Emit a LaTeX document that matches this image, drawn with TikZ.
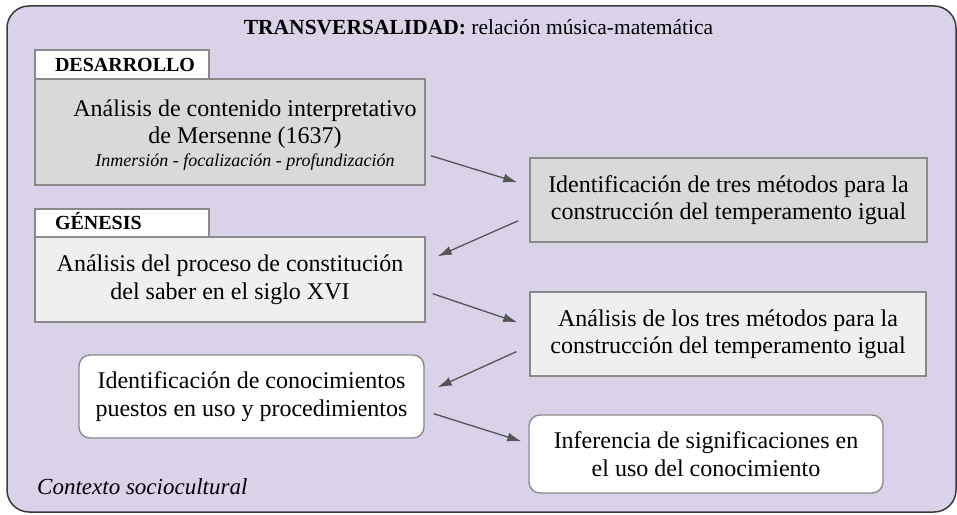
\documentclass[tikz,border=0pt]{standalone}
\usepackage{fontspec}
\setmainfont{Liberation Serif}
\usetikzlibrary{arrows.meta,calc}
\definecolor{lav}{HTML}{D9D2E9}
\definecolor{grayA}{HTML}{D9D9D9}
\definecolor{grayB}{HTML}{EFEFEF}
\definecolor{edgec}{HTML}{8A8A8A}
\definecolor{arrc}{HTML}{555555}
\definecolor{outerc}{HTML}{3A3A3A}
\begin{document}
\begin{tikzpicture}[x=1pt,y=1pt,
  outerbox/.style={draw=outerc,line width=1.5pt,fill=lav,rounded corners=22pt,inner sep=0pt},
  box/.style={draw=edgec,line width=1.4pt,inner sep=0pt,align=center,font=\fontsize{24}{27.5}\selectfont},
  rbox/.style={box,fill=white,rounded corners=11pt},
  labelbox/.style={draw=edgec,line width=1.4pt,fill=white,inner xsep=20pt,inner ysep=0pt,text width=134pt,align=left,text height=14pt,text depth=0pt,font=\bfseries\fontsize{20}{22}\selectfont},
  conn/.style={draw=arrc,line width=1.3pt,-{Latex[length=14pt,width=9pt]}}
]
\useasboundingbox (0,0) rectangle (957,514);
\node[outerbox,minimum width=949pt,minimum height=506pt] (outer) at (481.5,255) {};
\node[anchor=base,font=\fontsize{21.5}{24}\selectfont] (title) at (478.5,479) {\textbf{TRANSVERSALIDAD:} relación música-matemática};

\node[labelbox,minimum height=29pt] (lab1) at (122,449.5) {DESARROLLO};
\node[box,fill=grayA,minimum width=390pt,minimum height=106pt] (b1) at (230,382) {};
\node[align=center,inner sep=0pt,font=\fontsize{24}{27.5}\selectfont] (b1t) at (245,379) {Análisis de contenido interpretativo\\de Mersenne (1637)\\[-4.5pt]{\itshape\fontsize{18}{20}\selectfont Inmersión - focalización - profundización}};

\node[labelbox,minimum height=28pt] (lab2) at (122,291) {GÉNESIS};
\node[box,fill=grayB,minimum width=390pt,minimum height=85pt] (b3) at (230,234.5) {Análisis del proceso de constitución\\del saber en el siglo XVI};

\node[box,fill=grayA,minimum width=397pt,minimum height=84pt] (b2) at (728.5,314) {Identificación de tres métodos para la\\construcción del temperamento igual};
\node[box,fill=grayB,minimum width=396pt,minimum height=84pt] (b4) at (728,180) {Análisis de los tres métodos para la\\construcción del temperamento igual};

\node[rbox,minimum width=345pt,minimum height=83pt] (b5) at (251.5,117.5) {Identificación de conocimientos\\puestos en uso y procedimientos};
\node[rbox,minimum width=354pt,minimum height=78pt] (b6) at (706,60) {Inferencia de significaciones en\\el uso del conocimiento};

\node[anchor=base west,inner sep=0pt,font=\itshape\fontsize{23}{26}\selectfont] (ctx) at (37,20) {Contexto sociocultural};

\draw[conn] ($(b1.south east)+(5,30)$) -- ($(b2.north west)+(-12,-25)$);
\draw[conn] ($(b2.south west)+(-11,22)$) -- ($(b3.north east)+(12,-20)$);
\draw[conn] ($(b3.south east)+(7,29)$) -- ($(b4.north west)+(-12,-31)$);
\draw[conn] ($(b4.south west)+(-13,25)$) -- ($(b5.north east)+(13,-33)$);
\draw[conn] ($(b5.south east)+(9,25)$) -- ($(b6.north west)+(-7,-27)$);
\end{tikzpicture}
\end{document}
